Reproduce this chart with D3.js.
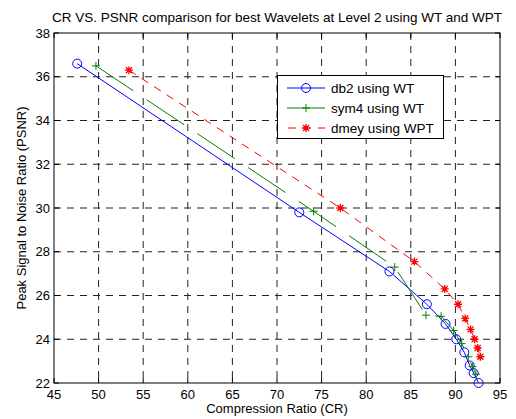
<!DOCTYPE html>
<html><head><meta charset="utf-8">
<script src="https://cdn.jsdelivr.net/npm/d3@7"></script>
<style>body{margin:0;background:#fff;} text{font-family:"Liberation Sans",Arial,sans-serif;}</style>
</head><body>
<svg id="c" width="516" height="419"></svg>
<script>
const xTicks = [45,50,55,60,65,70,75,80,85,90,95];
const yTicks = [22,24,26,28,30,32,34,36,38];
const db2X  = [47.6, 72.5, 82.6, 86.8, 88.9, 90.1, 91.0, 91.6, 92.05, 92.6];
const db2Y  = [36.6, 29.8, 27.1, 25.6, 24.7, 24.0, 23.4, 22.8, 22.45, 22.0];
const sym4X = [49.7, 74.1, 83.2, 86.7, 88.4, 89.8, 90.7, 91.45, 91.9, 92.3];
const sym4Y = [36.5, 29.85, 27.3, 25.1, 25.05, 24.4, 23.8, 23.2, 22.75, 22.4];
const dmeyX = [53.4, 77.1, 85.4, 88.8, 90.3, 91.1, 91.7, 92.15, 92.5, 92.8];
const dmeyY = [36.3, 30.0, 27.55, 26.3, 25.6, 24.95, 24.45, 24.0, 23.6, 23.2];
const seriesNames = ["db2 using WT", "sym4 using WT", "dmey using WPT"];

const svg = d3.select("#c");
const L = 54, R = 500, T = 33, B = 383;
const x = d3.scaleLinear().domain([45,95]).range([L,R]);
const y = d3.scaleLinear().domain([22,38]).range([B,T]);

// grid
const g = svg.append("g");
g.selectAll(".vg").data(xTicks.slice(1,-1)).enter().append("line")
  .attr("x1",d=>x(d)).attr("x2",d=>x(d)).attr("y1",T).attr("y2",B)
  .attr("stroke","#222").attr("stroke-dasharray","7,6").attr("stroke-width",1);
g.selectAll(".hg").data(yTicks.slice(1,-1)).enter().append("line")
  .attr("y1",d=>y(d)).attr("y2",d=>y(d)).attr("x1",L).attr("x2",R)
  .attr("stroke","#222").attr("stroke-dasharray","7,6").attr("stroke-width",1);

// axes
const tl = 5;
const ax = svg.append("g").attr("font-size",13).attr("fill","#000");
xTicks.forEach(t=>{
  ax.append("line").attr("x1",x(t)).attr("x2",x(t)).attr("y1",B).attr("y2",B-tl).attr("stroke","#000");
  ax.append("line").attr("x1",x(t)).attr("x2",x(t)).attr("y1",T).attr("y2",T+tl).attr("stroke","#000");
  ax.append("text").attr("x",x(t)).attr("y",B+16).attr("text-anchor","middle").text(t);
});
yTicks.forEach(t=>{
  ax.append("line").attr("x1",L).attr("x2",L+tl).attr("y1",y(t)).attr("y2",y(t)).attr("stroke","#000");
  ax.append("line").attr("x1",R).attr("x2",R-tl).attr("y1",y(t)).attr("y2",y(t)).attr("stroke","#000");
  ax.append("text").attr("x",L-4).attr("y",y(t)+4.5).attr("text-anchor","end").text(t);
});
svg.append("rect").attr("x",L).attr("y",T).attr("width",R-L).attr("height",B-T)
  .attr("fill","none").attr("stroke","#000").attr("stroke-width",1);

svg.append("text").attr("x",(L+R)/2).attr("y",413).attr("text-anchor","middle").attr("font-size",13).text("Compression Ratio (CR)");
svg.append("text").attr("transform",`translate(26,${(T+B)/2}) rotate(-90)`).attr("text-anchor","middle").attr("font-size",13).text("Peak Signal to Noise Ratio (PSNR)");
svg.append("text").attr("x",(L+R)/2).attr("y",22).attr("text-anchor","middle").attr("font-size",13.5).text("CR VS. PSNR comparison for best Wavelets at Level 2 using WT and WPT");

// markers
function marker(sel, type, color){
  if(type==="o"){
    sel.append("circle").attr("r",4.5).attr("fill","none").attr("stroke",color);
  } else if(type==="+"){
    sel.append("path").attr("d","M-4,0H4M0,-4V4").attr("stroke",color).attr("fill","none");
  } else {
    sel.append("path").attr("d","M-4,0H4M0,-4V4M-3,-3L3,3M-3,3L3,-3").attr("stroke",color).attr("fill","none").attr("stroke-width",1.3);
  }
}
const series = [
  {xs:db2X, ys:db2Y, color:"#0000ff", dash:null, m:"o"},
  {xs:sym4X, ys:sym4Y, color:"#008000", dash:"45,16", m:"+"},
  {xs:dmeyX, ys:dmeyY, color:"#ff0000", dash:"8,7", m:"*"}
];
const line = d3.line().x(d=>x(d[0])).y(d=>y(d[1]));
series.forEach(s=>{
  const pts = s.xs.map((v,i)=>[v,s.ys[i]]);
  const p = svg.append("path").attr("d",line(pts)).attr("fill","none").attr("stroke",s.color).attr("stroke-width",1);
  if(s.dash) p.attr("stroke-dasharray",s.dash);
  pts.forEach(d=>{
    const gg = svg.append("g").attr("transform",`translate(${x(d[0])},${y(d[1])})`);
    marker(gg, s.m, s.color);
  });
});

// legend
const lg = svg.append("g");
lg.append("rect").attr("x",277.5).attr("y",75.5).attr("width",166).attr("height",63).attr("fill","#fff").attr("stroke","#000");
series.forEach((s,i)=>{
  const yy = 88 + i*20;
  const l = lg.append("line").attr("x1",287).attr("x2",325).attr("y1",yy).attr("y2",yy).attr("stroke",s.color);
  if(i===2) l.attr("stroke-dasharray","8,7").attr("stroke-dashoffset",-1);
  const gg = lg.append("g").attr("transform",`translate(306,${yy})`);
  marker(gg, s.m, s.color);
  lg.append("text").attr("x",331).attr("y",yy+4.5).attr("font-size",13.5).text(seriesNames[i]);
});
</script>
</body></html>
